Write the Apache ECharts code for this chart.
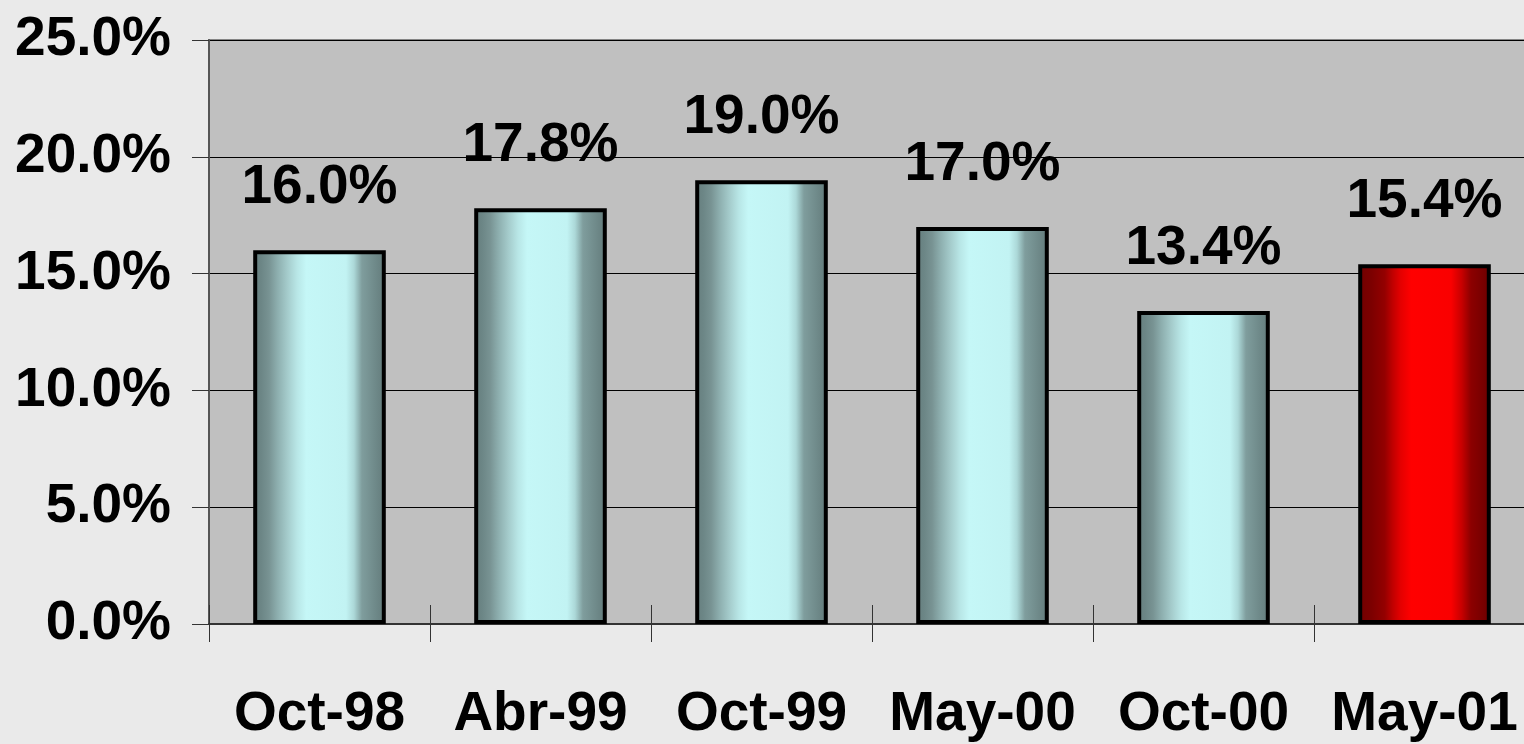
<!DOCTYPE html>
<html>
<head>
<meta charset="utf-8">
<script src="https://cdn.jsdelivr.net/npm/echarts@6/dist/echarts.min.js"></script>
<style>
  html, body { margin: 0; padding: 0; background: #eaeaea; }
  #mychart { width: 1524px; height: 744px; }
</style>
</head>
<body>
<div id="mychart"></div>
<script>
// data
const categories = ['Oct-98', 'Abr-99', 'Oct-99', 'May-00', 'Oct-00', 'May-01'];
const values = [16.0, 17.8, 19.0, 17.0, 13.4, 15.4];
const highlightIndex = 5; // last bar is red

const font = "'Liberation Sans', Arial, sans-serif";

// cylinder-ish horizontal gradients
function barGradient(stops) {
  return new echarts.graphic.LinearGradient(0, 0, 1, 0,
    stops.map((c) => ({ offset: c[0], color: c[1] })));
}
const cyan = barGradient([
  [0, '#667e7e'], [0.06, '#6c8686'], [0.12, '#789393'], [0.18, '#8cadad'],
  [0.26, '#a5cccc'], [0.33, '#b8e6e6'], [0.4, '#c5f7f7'], [0.7, '#c2f3f3'],
  [0.76, '#acd8d8'], [0.82, '#7f9d9d'], [1, '#627a7a']
]);
const red = barGradient([
  [0, '#700000'], [0.1, '#7c0000'], [0.2, '#940000'], [0.26, '#c00000'],
  [0.32, '#e40000'], [0.4, '#ff0000'], [0.7, '#fa0000'], [0.78, '#c80000'],
  [0.85, '#8c0000'], [1, '#6a0000']
]);

let myChart = echarts.init(document.getElementById('mychart'));

let option = {
  backgroundColor: '#eaeaea',
  animation: false,
  grid: {
    left: 209,
    right: -11,
    top: 40,
    bottom: 120,
    outerBoundsMode: 'none',
    containLabel: false,
    show: true,
    backgroundColor: '#c0c0c0',
    borderColor: '#858585',
    borderWidth: 2,
  },
  xAxis: [
    {
      type: 'category',
      data: categories,
      axisLine: { lineStyle: { color: '#333', width: 2 } },
      axisTick: { show: true, interval: 0, length: 18, lineStyle: { color: '#333', width: 1 } },
      axisLabel: {
        interval: 0,
        color: '#000',
        fontFamily: font,
        fontWeight: 'bold',
        fontSize: 55,
        margin: 63,
      },
    },
    {
      // inside half of the crossing ticks
      type: 'category',
      data: categories,
      position: 'bottom',
      axisLine: { show: false },
      axisTick: { show: true, interval: 0, inside: true, length: 19, lineStyle: { color: '#333', width: 1 } },
      axisLabel: { show: false },
    },
  ],
  yAxis: {
    type: 'value',
    min: 0,
    max: 25,
    interval: 5,
    axisLine: { show: true, lineStyle: { color: '#555', width: 2 } },
    axisTick: { show: true, length: 17, lineStyle: { color: '#333', width: 1 } },
    splitLine: { show: true, lineStyle: { color: '#000', width: 1 } },
    axisLabel: {
      color: '#000',
      fontFamily: font,
      fontWeight: 'bold',
      fontSize: 55,
      margin: 38,
      formatter: (v) => v.toFixed(1) + '%',
    },
  },
  series: [
    {
      type: 'bar',
      barWidth: '60%',
      data: values.map((v, i) => ({
        value: v,
        itemStyle: { color: i === highlightIndex ? red : cyan },
      })),
      itemStyle: { borderColor: '#000', borderWidth: 4 },
      label: {
        show: true,
        position: 'top',
        distance: 35,
        color: '#000',
        fontFamily: font,
        fontWeight: 'bold',
        fontSize: 55,
        formatter: (p) => p.value.toFixed(1) + '%',
      },
    },
  ],
};

myChart.setOption(option);
</script>
</body>
</html>
